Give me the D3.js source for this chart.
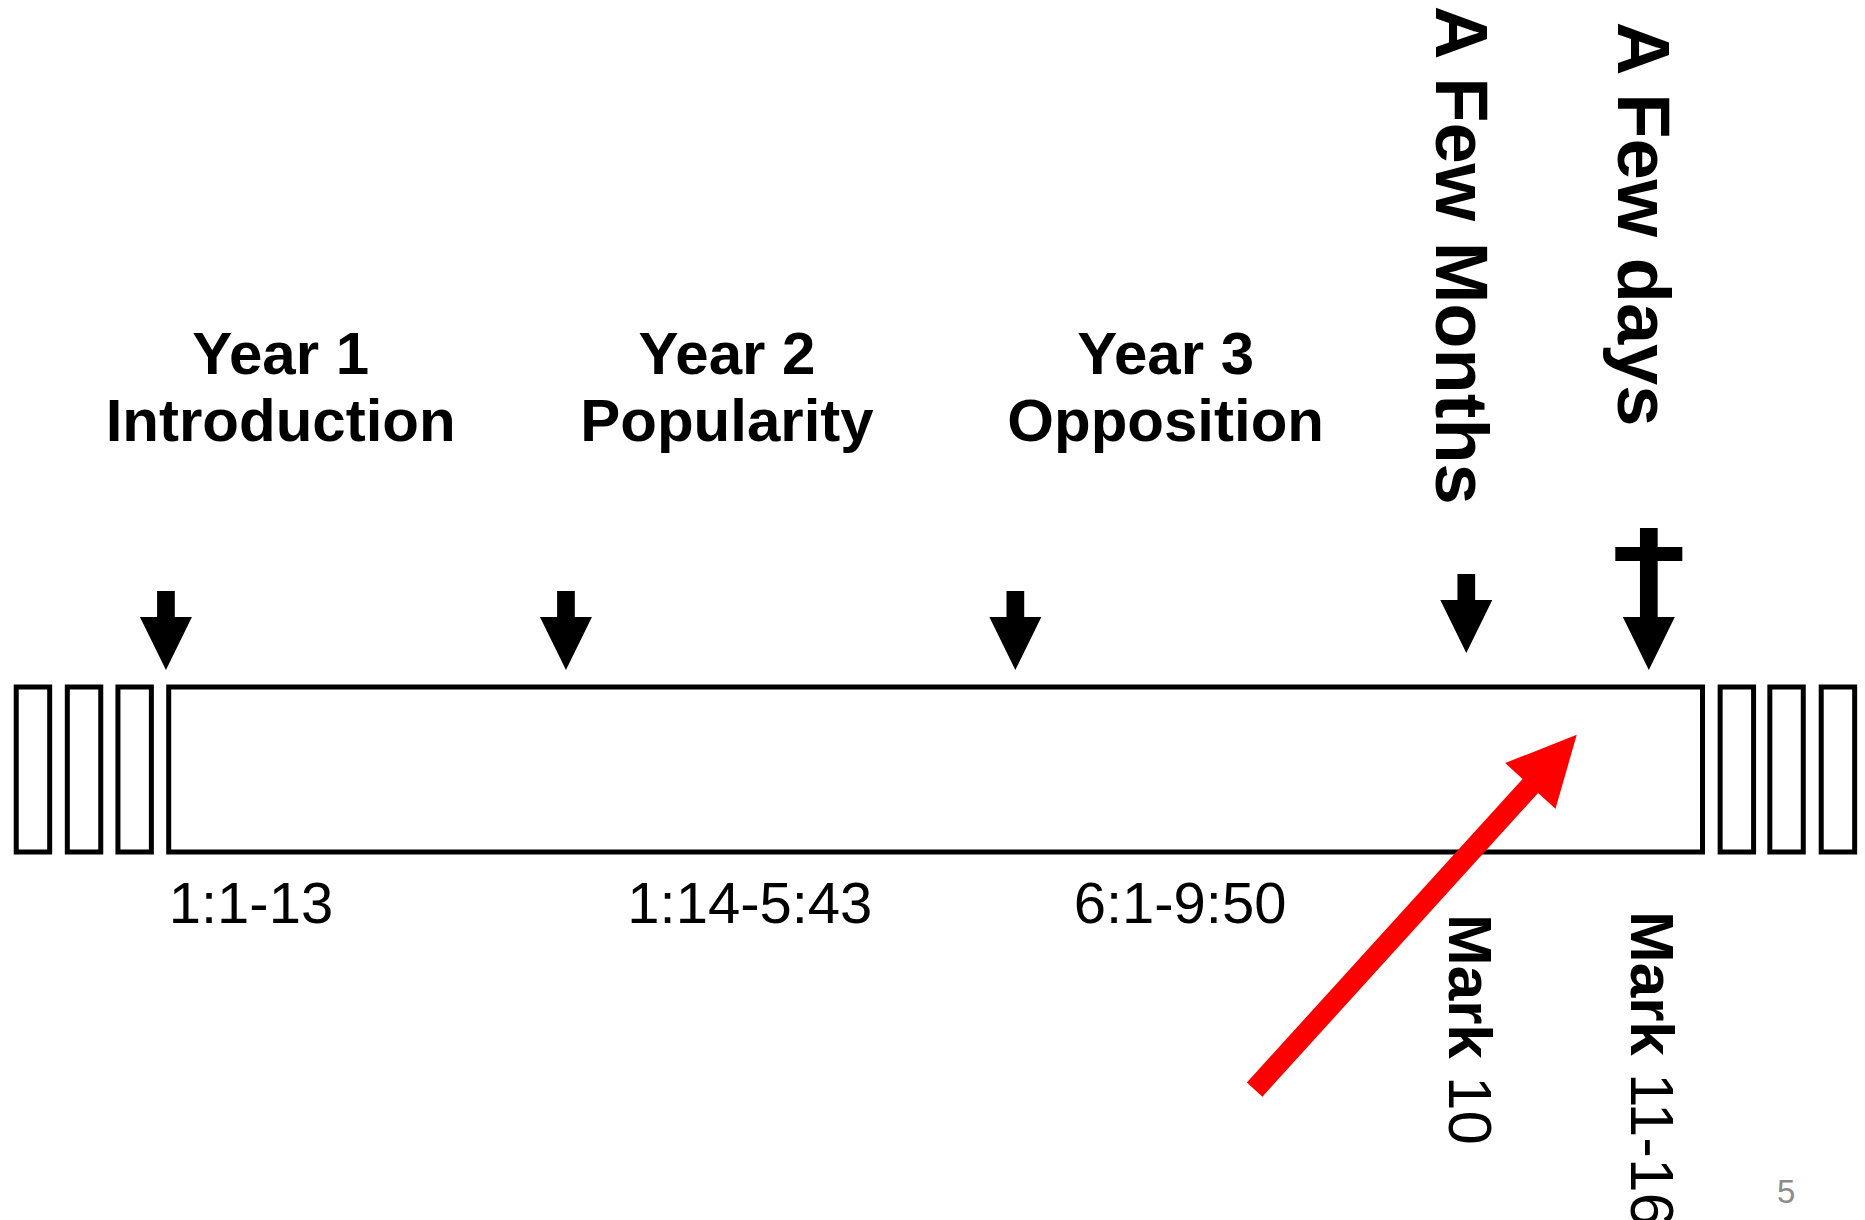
<!DOCTYPE html>
<html>
<head>
<meta charset="utf-8">
<script src="https://cdn.jsdelivr.net/npm/d3@7"></script>
<style>
  html, body { margin: 0; padding: 0; background: #ffffff; }
  svg { display: block; }
  text { font-family: "Liberation Sans", Arial, Helvetica, sans-serif; }
</style>
</head>
<body>
<script>
// ---------- data ----------
const periods     = ["Year 1", "Year 2", "Year 3"];
const themes      = ["Introduction", "Popularity", "Opposition"];
const themePos    = [7.3, 36.4, 65.0];          // timeline position (0-100) of heading centre
const passages    = ["1:1-13", "1:14-5:43", "6:1-9:50"];
const passagePos  = [0, 29.9, 59.0];            // timeline position of passage label start
const markerPos   = [-0.18, 25.9, 55.2, 84.6, 96.5];
const markerKind  = ["arrow", "arrow", "arrow", "raised", "cross"];
const finalLabels = ["A Few Months", "A Few days"];
const finalPos    = [84.6, 96.5];
const markRefs    = [["Mark ", "10"], ["Mark ", "11-16"]];
const outerBoxes  = [-8.85, -5.52, -2.22, 102.24, 105.48, 108.83];
const pointerPath = [{t: 70.8, v: 2.44}, {t: 91.8, v: 0.29}];
const pageNumber  = "5";

// ---------- layout ----------
const W = 1865, H = 1220;
const svg = d3.select("body").append("svg").attr("width", W).attr("height", H);
svg.append("rect").attr("width", W).attr("height", H).attr("fill", "#fff");

const x = d3.scaleLinear().domain([0, 100]).range([168.7, 1702.5]);
const y = d3.scaleLinear().domain([0, 1]).range([687, 852]);
const unit = x(1) - x(0);

// outer small boxes
svg.selectAll("rect.outer").data(outerBoxes).join("rect")
  .attr("class", "outer")
  .attr("x", d => x(d) - unit * 1.09)
  .attr("width", unit * 2.18)
  .attr("y", y(0))
  .attr("height", y(1) - y(0))
  .attr("fill", "none").attr("stroke", "#000").attr("stroke-width", 5);

// main timeline box
svg.append("rect")
  .attr("x", x(0)).attr("width", x(100) - x(0))
  .attr("y", y(0)).attr("height", y(1) - y(0))
  .attr("fill", "none").attr("stroke", "#000").attr("stroke-width", 5);

// marker arrows
const tipGap = 17, headH = 53, headW = 52, shaftW = 17.7;
function blockArrow(cx, tipY, topY) {
  const p = d3.path();
  p.moveTo(cx - shaftW / 2, topY);
  p.lineTo(cx + shaftW / 2, topY);
  p.lineTo(cx + shaftW / 2, tipY - headH);
  p.lineTo(cx + headW / 2, tipY - headH);
  p.lineTo(cx, tipY);
  p.lineTo(cx - headW / 2, tipY - headH);
  p.lineTo(cx - shaftW / 2, tipY - headH);
  p.closePath();
  return p.toString();
}
const markers = markerPos.map((t, i) => ({t, kind: markerKind[i]}));
markers.forEach(m => {
  const cx = x(m.t);
  let tipY = y(0) - tipGap;
  let topY = tipY - 79;
  if (m.kind === "raised") { tipY -= 17; topY -= 17; }
  if (m.kind === "cross") { topY = tipY - 142; }
  svg.append("path").attr("d", blockArrow(cx, tipY, topY)).attr("fill", "#000");
  if (m.kind === "cross") {
    svg.append("rect")
      .attr("x", cx - 33.5).attr("width", 67)
      .attr("y", topY + 19).attr("height", 14)
      .attr("fill", "#000");
  }
});

// headings
const headG = svg.append("g");
periods.forEach((p, i) => {
  const t = headG.append("text")
    .attr("x", x(themePos[i])).attr("text-anchor", "middle")
    .attr("font-weight", "bold").attr("font-size", 60).attr("fill", "#000");
  t.append("tspan").attr("x", x(themePos[i])).attr("y", 374).text(p);
  t.append("tspan").attr("x", x(themePos[i])).attr("y", 441).text(themes[i]);
});

// passage labels
svg.selectAll("text.passage").data(passages).join("text")
  .attr("class", "passage")
  .attr("x", (d, i) => x(passagePos[i]))
  .attr("y", 923)
  .attr("font-size", 58).attr("fill", "#000")
  .text(d => d);

// vertical labels above (reading downward, glyph tops to the right)
const topStart = [6, 22];
finalLabels.forEach((lab, i) => {
  const fs = 74;
  svg.append("text")
    .attr("transform", `translate(${x(finalPos[i]) - 0.41 * fs},${topStart[i]}) rotate(90)`)
    .attr("font-weight", "bold").attr("font-size", fs).attr("fill", "#000")
    .text(lab);
});

// Mark references below
const markStart = [914, 911];
markRefs.forEach((parts, i) => {
  const fs = 62;
  const t = svg.append("text")
    .attr("transform", `translate(${x(finalPos[i]) - 0.28 * fs},${markStart[i]}) rotate(90)`)
    .attr("font-size", fs).attr("fill", "#000");
  t.append("tspan").attr("font-weight", "bold").text(parts[0]);
  t.append("tspan").attr("font-weight", "normal").text(parts[1]);
});

// red pointer arrow
(function() {
  const a = pointerPath[0], b = pointerPath[1];
  const x0 = x(a.t), y0 = y(a.v), x1 = x(b.t), y1 = y(b.v);
  const dx = x1 - x0, dy = y1 - y0, L = Math.hypot(dx, dy);
  const ux = dx / L, uy = dy / L, nx = -uy, ny = ux;
  const sw = 10.5, hw = 34, hl = 69;
  const bx = x1 - ux * hl, by = y1 - uy * hl;
  const pts = [
    [x0 + nx * sw, y0 + ny * sw],
    [bx + nx * sw, by + ny * sw],
    [bx + nx * hw, by + ny * hw],
    [x1, y1],
    [bx - nx * hw, by - ny * hw],
    [bx - nx * sw, by - ny * sw],
    [x0 - nx * sw, y0 - ny * sw]
  ];
  svg.append("path")
    .attr("d", d3.line()(pts) + "Z")
    .attr("fill", "#ff0000");
})();

// page number
svg.append("text")
  .attr("x", 1777).attr("y", 1203)
  .attr("font-size", 33).attr("fill", "#8c8c8c")
  .text(pageNumber);
</script>
</body>
</html>
